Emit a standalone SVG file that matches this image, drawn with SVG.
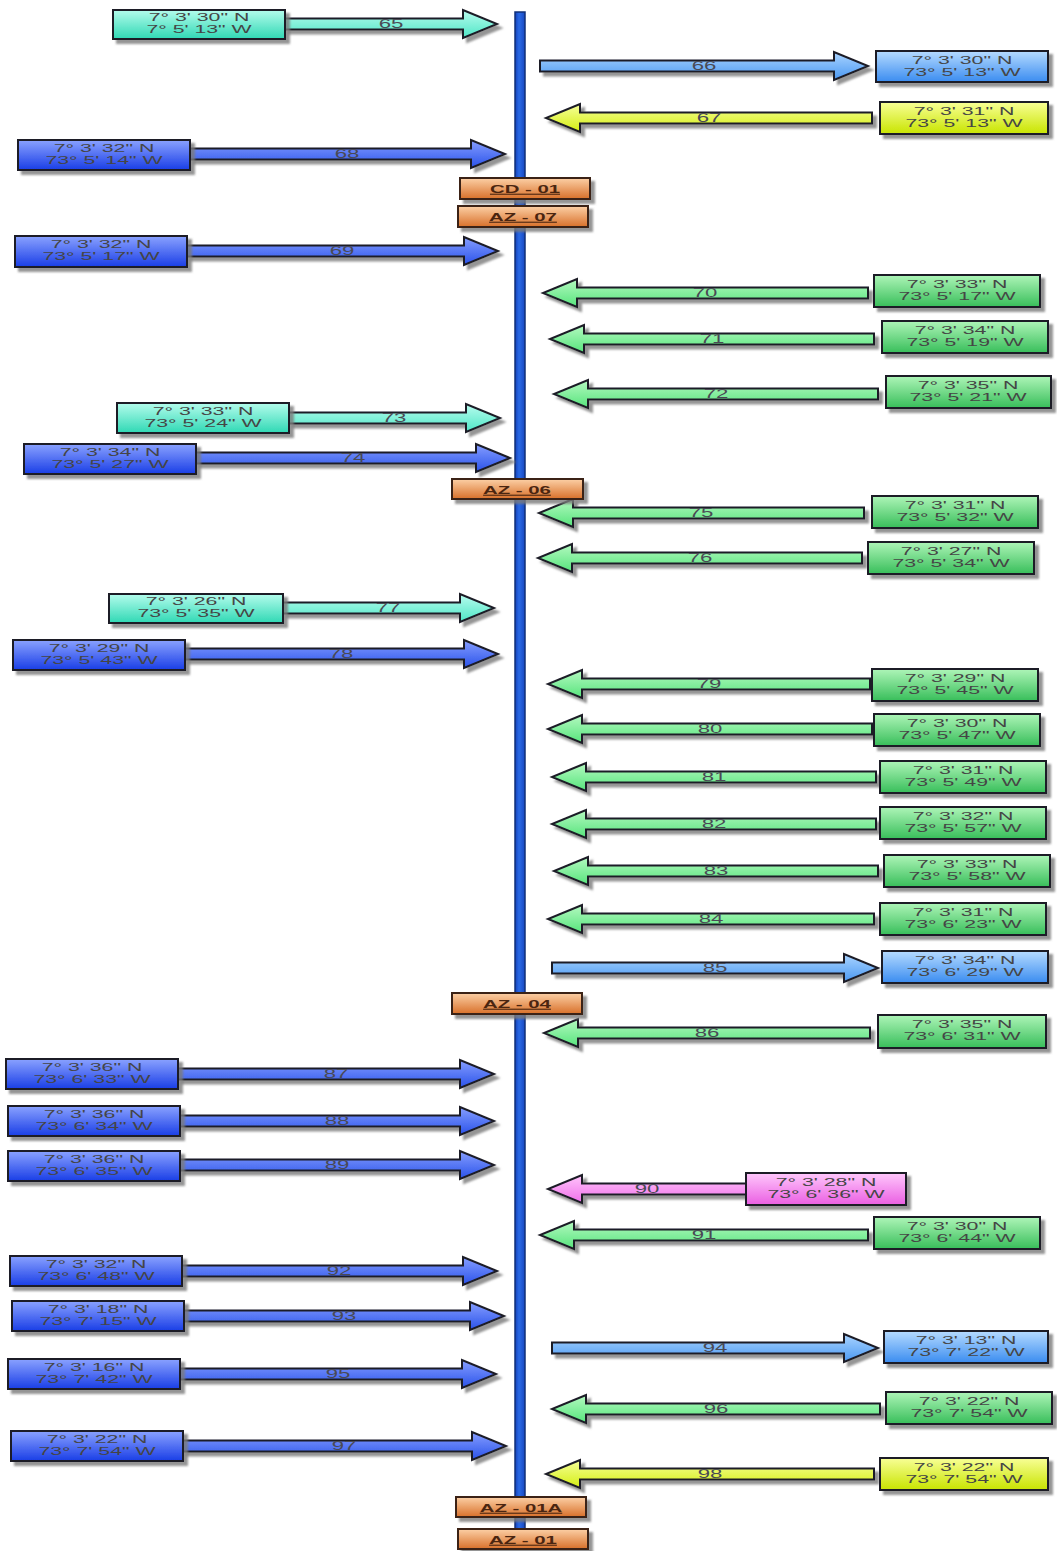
<svg xmlns="http://www.w3.org/2000/svg" width="1057" height="1551" viewBox="0 0 1057 1551">
<defs>
  <filter id="sh" x="-10%" y="-40%" width="130%" height="200%">
    <feDropShadow dx="4" dy="4" stdDeviation="1.2" flood-color="#7a7a7a" flood-opacity="0.8"/>
  </filter>
  <linearGradient id="gCy" x1="0" y1="0" x2="0" y2="1"><stop offset="0" stop-color="#b4fcec"/><stop offset="1" stop-color="#2fd8b4"/></linearGradient>
  <linearGradient id="gCyA" x1="0" y1="0" x2="0" y2="1"><stop offset="0" stop-color="#b8fcee"/><stop offset="1" stop-color="#4ee6c6"/></linearGradient>
  <linearGradient id="gBl" x1="0" y1="0" x2="0" y2="1"><stop offset="0" stop-color="#8aa2ff"/><stop offset="1" stop-color="#1a3ee6"/></linearGradient>
  <linearGradient id="gBlA" x1="0" y1="0" x2="0" y2="1"><stop offset="0" stop-color="#869eff"/><stop offset="1" stop-color="#2a52ea"/></linearGradient>
  <linearGradient id="gLb" x1="0" y1="0" x2="0" y2="1"><stop offset="0" stop-color="#b6dbff"/><stop offset="1" stop-color="#3a8cf0"/></linearGradient>
  <linearGradient id="gLbA" x1="0" y1="0" x2="0" y2="1"><stop offset="0" stop-color="#aad4ff"/><stop offset="1" stop-color="#4a98f2"/></linearGradient>
  <linearGradient id="gYe" x1="0" y1="0" x2="0" y2="1"><stop offset="0" stop-color="#f8ff96"/><stop offset="1" stop-color="#c8e400"/></linearGradient>
  <linearGradient id="gYeA" x1="0" y1="0" x2="0" y2="1"><stop offset="0" stop-color="#f6ff9a"/><stop offset="1" stop-color="#d4ee10"/></linearGradient>
  <linearGradient id="gGr" x1="0" y1="0" x2="0" y2="1"><stop offset="0" stop-color="#aef5b8"/><stop offset="1" stop-color="#38be5a"/></linearGradient>
  <linearGradient id="gGrA" x1="0" y1="0" x2="0" y2="1"><stop offset="0" stop-color="#b4f9c0"/><stop offset="1" stop-color="#56e47c"/></linearGradient>
  <linearGradient id="gPk" x1="0" y1="0" x2="0" y2="1"><stop offset="0" stop-color="#ffc8fc"/><stop offset="1" stop-color="#ea5ee2"/></linearGradient>
  <linearGradient id="gPkA" x1="0" y1="0" x2="0" y2="1"><stop offset="0" stop-color="#ffc4fb"/><stop offset="1" stop-color="#f070ea"/></linearGradient>
  <linearGradient id="gOr" x1="0" y1="0" x2="0" y2="1"><stop offset="0" stop-color="#fcd0a6"/><stop offset="1" stop-color="#d8702a"/></linearGradient>
  <linearGradient id="gLine" x1="0" y1="0" x2="1" y2="0"><stop offset="0" stop-color="#1440b8"/><stop offset="0.4" stop-color="#2a6ae6"/><stop offset="1" stop-color="#1848c0"/></linearGradient>
  <style>
    .box, .arr { stroke: #1c1c28; stroke-width: 2; filter: url(#sh); }
    .arr { stroke-linejoin: miter; }
    .cy { fill: url(#gCy); } .cyA { fill: url(#gCyA); }
    .bl { fill: url(#gBl); } .blA { fill: url(#gBlA); }
    .lb { fill: url(#gLb); } .lbA { fill: url(#gLbA); }
    .ye { fill: url(#gYe); } .yeA { fill: url(#gYeA); }
    .gr { fill: url(#gGr); } .grA { fill: url(#gGrA); }
    .pk { fill: url(#gPk); } .pkA { fill: url(#gPkA); }
    .or { fill: url(#gOr); stroke: #3a2414; stroke-width: 2; filter: url(#sh); }
    text { font-family: "Liberation Sans", Arial, sans-serif; text-anchor: middle; fill: #454545; }
    .bt { font-size: 11.5px; }
    .nt { font-size: 12px; fill: #4a4a55; }
    .lt { font-size: 11px; font-weight: bold; text-decoration: underline; fill: #4a2510; }
  </style>
</defs>
<rect width="1057" height="1551" fill="#ffffff"/>

<!-- main spine -->
<rect id="spine" x="515" y="12" width="10" height="1530" fill="url(#gLine)" stroke="#10307a" stroke-width="1.5"/>

<!-- arrows: right-pointing = M tail,c-5.5 H tip-34 V c-14 L tip,c L tip-34,c+14 V c+5.5 H tail Z -->
<g id="connectors">
  <path class="arr cyA" d="M285,18.5 H463 V10 L497,24 L463,38 V29.5 H285 Z"/><text class="nt" transform="translate(391,28) scale(1.85,1)">65</text>
  <path class="arr blA" d="M190,148.5 H471 V140 L505,154 L471,168 V159.5 H190 Z"/><text class="nt" transform="translate(347,158) scale(1.85,1)">68</text>
  <path class="arr blA" d="M187,245.5 H464 V237 L498,251 L464,265 V256.5 H187 Z"/><text class="nt" transform="translate(342,255) scale(1.85,1)">69</text>
  <path class="arr cyA" d="M289,412.5 H466 V404 L500,418 L466,432 V423.5 H289 Z"/><text class="nt" transform="translate(394,422) scale(1.85,1)">73</text>
  <path class="arr blA" d="M196,452.5 H476 V444 L510,458 L476,472 V463.5 H196 Z"/><text class="nt" transform="translate(353,462) scale(1.85,1)">74</text>
  <path class="arr cyA" d="M283,602.5 H460 V594 L494,608 L460,622 V613.5 H283 Z"/><text class="nt" transform="translate(388,612) scale(1.85,1)">77</text>
  <path class="arr blA" d="M185,648.5 H464 V640 L498,654 L464,668 V659.5 H185 Z"/><text class="nt" transform="translate(341,658) scale(1.85,1)">78</text>
  <path class="arr blA" d="M178,1068.5 H460 V1060 L494,1074 L460,1088 V1079.5 H178 Z"/><text class="nt" transform="translate(336,1078) scale(1.85,1)">87</text>
  <path class="arr blA" d="M180,1115.5 H460 V1107 L494,1121 L460,1135 V1126.5 H180 Z"/><text class="nt" transform="translate(337,1125) scale(1.85,1)">88</text>
  <path class="arr blA" d="M180,1159.5 H460 V1151 L494,1165 L460,1179 V1170.5 H180 Z"/><text class="nt" transform="translate(337,1169) scale(1.85,1)">89</text>
  <path class="arr blA" d="M182,1265.5 H463 V1257 L497,1271 L463,1285 V1276.5 H182 Z"/><text class="nt" transform="translate(339,1275) scale(1.85,1)">92</text>
  <path class="arr blA" d="M184,1310.5 H470 V1302 L504,1316 L470,1330 V1321.5 H184 Z"/><text class="nt" transform="translate(344,1320) scale(1.85,1)">93</text>
  <path class="arr blA" d="M180,1368.5 H462 V1360 L496,1374 L462,1388 V1379.5 H180 Z"/><text class="nt" transform="translate(338,1378) scale(1.85,1)">95</text>
  <path class="arr blA" d="M183,1440.5 H472 V1432 L506,1446 L472,1460 V1451.5 H183 Z"/><text class="nt" transform="translate(344,1450) scale(1.85,1)">97</text>

  <path class="arr lbA" d="M540,60.5 H834 V52 L868,66 L834,80 V71.5 H540 Z"/><text class="nt" transform="translate(704,70) scale(1.85,1)">66</text>
  <path class="arr yeA" d="M872,112.5 H580 V104 L546,118 L580,132 V123.5 H872 Z"/><text class="nt" transform="translate(709,122) scale(1.85,1)">67</text>
  <path class="arr grA" d="M868,287.5 H577 V279 L543,293 L577,307 V298.5 H868 Z"/><text class="nt" transform="translate(705,297) scale(1.85,1)">70</text>
  <path class="arr grA" d="M874,333.5 H584 V325 L550,339 L584,353 V344.5 H874 Z"/><text class="nt" transform="translate(712,343) scale(1.85,1)">71</text>
  <path class="arr grA" d="M878,388.5 H588 V380 L554,394 L588,408 V399.5 H878 Z"/><text class="nt" transform="translate(716,398) scale(1.85,1)">72</text>
  <path class="arr grA" d="M864,507.5 H573 V499 L539,513 L573,527 V518.5 H864 Z"/><text class="nt" transform="translate(701,517) scale(1.85,1)">75</text>
  <path class="arr grA" d="M862,552.5 H572 V544 L538,558 L572,572 V563.5 H862 Z"/><text class="nt" transform="translate(700,562) scale(1.85,1)">76</text>
  <path class="arr grA" d="M870,678.5 H582 V670 L548,684 L582,698 V689.5 H870 Z"/><text class="nt" transform="translate(709,688) scale(1.85,1)">79</text>
  <path class="arr grA" d="M872,723.5 H582 V715 L548,729 L582,743 V734.5 H872 Z"/><text class="nt" transform="translate(710,733) scale(1.85,1)">80</text>
  <path class="arr grA" d="M876,771.5 H586 V763 L552,777 L586,791 V782.5 H876 Z"/><text class="nt" transform="translate(714,781) scale(1.85,1)">81</text>
  <path class="arr grA" d="M876,818.5 H586 V810 L552,824 L586,838 V829.5 H876 Z"/><text class="nt" transform="translate(714,828) scale(1.85,1)">82</text>
  <path class="arr grA" d="M878,865.5 H588 V857 L554,871 L588,885 V876.5 H878 Z"/><text class="nt" transform="translate(716,875) scale(1.85,1)">83</text>
  <path class="arr grA" d="M874,913.5 H582 V905 L548,919 L582,933 V924.5 H874 Z"/><text class="nt" transform="translate(711,923) scale(1.85,1)">84</text>
  <path class="arr lbA" d="M552,962.5 H844 V954 L878,968 L844,982 V973.5 H552 Z"/><text class="nt" transform="translate(715,972) scale(1.85,1)">85</text>
  <path class="arr grA" d="M870,1027.5 H578 V1019 L544,1033 L578,1047 V1038.5 H870 Z"/><text class="nt" transform="translate(707,1037) scale(1.85,1)">86</text>
  <path class="arr pkA" d="M746,1183.5 H582 V1175 L548,1189 L582,1203 V1194.5 H746 Z"/><text class="nt" transform="translate(647,1193) scale(1.85,1)">90</text>
  <path class="arr grA" d="M868,1229.5 H574 V1221 L540,1235 L574,1249 V1240.5 H868 Z"/><text class="nt" transform="translate(704,1239) scale(1.85,1)">91</text>
  <path class="arr lbA" d="M552,1342.5 H844 V1334 L878,1348 L844,1362 V1353.5 H552 Z"/><text class="nt" transform="translate(715,1352) scale(1.85,1)">94</text>
  <path class="arr grA" d="M880,1403.5 H586 V1395 L552,1409 L586,1423 V1414.5 H880 Z"/><text class="nt" transform="translate(716,1413) scale(1.85,1)">96</text>
  <path class="arr yeA" d="M874,1468.5 H580 V1460 L546,1474 L580,1488 V1479.5 H874 Z"/><text class="nt" transform="translate(710,1478) scale(1.85,1)">98</text>
</g>

<!-- coordinate boxes, left column -->
<g id="n65"><rect class="box cy" x="113" y="10" width="172" height="29"/><text class="bt" transform="translate(199,21) scale(1.85,1)">7° 3' 30" N</text><text class="bt" transform="translate(199,33) scale(1.85,1)">7° 5' 13" W</text></g>
<g id="n68"><rect class="box bl" x="18" y="140" width="172" height="30"/><text class="bt" transform="translate(104,152) scale(1.85,1)">7° 3' 32" N</text><text class="bt" transform="translate(104,164) scale(1.85,1)">73° 5' 14" W</text></g>
<g id="n69"><rect class="box bl" x="15" y="236" width="172" height="31"/><text class="bt" transform="translate(101,248) scale(1.85,1)">7° 3' 32" N</text><text class="bt" transform="translate(101,260) scale(1.85,1)">73° 5' 17" W</text></g>
<g id="n73"><rect class="box cy" x="117" y="403" width="172" height="30"/><text class="bt" transform="translate(203,415) scale(1.85,1)">7° 3' 33" N</text><text class="bt" transform="translate(203,427) scale(1.85,1)">73° 5' 24" W</text></g>
<g id="n74"><rect class="box bl" x="24" y="444" width="172" height="30"/><text class="bt" transform="translate(110,456) scale(1.85,1)">7° 3' 34" N</text><text class="bt" transform="translate(110,468) scale(1.85,1)">73° 5' 27" W</text></g>
<g id="n77"><rect class="box cy" x="109" y="594" width="174" height="29"/><text class="bt" transform="translate(196,605) scale(1.85,1)">7° 3' 26" N</text><text class="bt" transform="translate(196,617) scale(1.85,1)">73° 5' 35" W</text></g>
<g id="n78"><rect class="box bl" x="13" y="640" width="172" height="30"/><text class="bt" transform="translate(99,652) scale(1.85,1)">7° 3' 29" N</text><text class="bt" transform="translate(99,664) scale(1.85,1)">73° 5' 43" W</text></g>
<g id="n87"><rect class="box bl" x="6" y="1059" width="172" height="30"/><text class="bt" transform="translate(92,1071) scale(1.85,1)">7° 3' 36" N</text><text class="bt" transform="translate(92,1083) scale(1.85,1)">73° 6' 33" W</text></g>
<g id="n88"><rect class="box bl" x="8" y="1106" width="172" height="30"/><text class="bt" transform="translate(94,1118) scale(1.85,1)">7° 3' 36" N</text><text class="bt" transform="translate(94,1130) scale(1.85,1)">73° 6' 34" W</text></g>
<g id="n89"><rect class="box bl" x="8" y="1151" width="172" height="30"/><text class="bt" transform="translate(94,1163) scale(1.85,1)">7° 3' 36" N</text><text class="bt" transform="translate(94,1175) scale(1.85,1)">73° 6' 35" W</text></g>
<g id="n92"><rect class="box bl" x="10" y="1256" width="172" height="30"/><text class="bt" transform="translate(96,1268) scale(1.85,1)">7° 3' 32" N</text><text class="bt" transform="translate(96,1280) scale(1.85,1)">73° 6' 48" W</text></g>
<g id="n93"><rect class="box bl" x="12" y="1301" width="172" height="30"/><text class="bt" transform="translate(98,1313) scale(1.85,1)">7° 3' 18" N</text><text class="bt" transform="translate(98,1325) scale(1.85,1)">73° 7' 15" W</text></g>
<g id="n95"><rect class="box bl" x="8" y="1359" width="172" height="30"/><text class="bt" transform="translate(94,1371) scale(1.85,1)">7° 3' 16" N</text><text class="bt" transform="translate(94,1383) scale(1.85,1)">73° 7' 42" W</text></g>
<g id="n97"><rect class="box bl" x="11" y="1431" width="172" height="30"/><text class="bt" transform="translate(97,1443) scale(1.85,1)">7° 3' 22" N</text><text class="bt" transform="translate(97,1455) scale(1.85,1)">73° 7' 54" W</text></g>

<!-- coordinate boxes, right column -->
<g id="n66"><rect class="box lb" x="876" y="51" width="172" height="31"/><text class="bt" transform="translate(962,64) scale(1.85,1)">7° 3' 30" N</text><text class="bt" transform="translate(962,76) scale(1.85,1)">73° 5' 13" W</text></g>
<g id="n67"><rect class="box ye" x="880" y="102" width="168" height="32"/><text class="bt" transform="translate(964,115) scale(1.85,1)">7° 3' 31" N</text><text class="bt" transform="translate(964,127) scale(1.85,1)">73° 5' 13" W</text></g>
<g id="n70"><rect class="box gr" x="874" y="275" width="166" height="32"/><text class="bt" transform="translate(957,288) scale(1.85,1)">7° 3' 33" N</text><text class="bt" transform="translate(957,300) scale(1.85,1)">73° 5' 17" W</text></g>
<g id="n71"><rect class="box gr" x="882" y="321" width="166" height="32"/><text class="bt" transform="translate(965,334) scale(1.85,1)">7° 3' 34" N</text><text class="bt" transform="translate(965,346) scale(1.85,1)">73° 5' 19" W</text></g>
<g id="n72"><rect class="box gr" x="886" y="376" width="165" height="32"/><text class="bt" transform="translate(968,389) scale(1.85,1)">7° 3' 35" N</text><text class="bt" transform="translate(968,401) scale(1.85,1)">73° 5' 21" W</text></g>
<g id="n75"><rect class="box gr" x="872" y="496" width="166" height="32"/><text class="bt" transform="translate(955,509) scale(1.85,1)">7° 3' 31" N</text><text class="bt" transform="translate(955,521) scale(1.85,1)">73° 5' 32" W</text></g>
<g id="n76"><rect class="box gr" x="868" y="542" width="166" height="32"/><text class="bt" transform="translate(951,555) scale(1.85,1)">7° 3' 27" N</text><text class="bt" transform="translate(951,567) scale(1.85,1)">73° 5' 34" W</text></g>
<g id="n79"><rect class="box gr" x="872" y="669" width="166" height="32"/><text class="bt" transform="translate(955,682) scale(1.85,1)">7° 3' 29" N</text><text class="bt" transform="translate(955,694) scale(1.85,1)">73° 5' 45" W</text></g>
<g id="n80"><rect class="box gr" x="874" y="714" width="166" height="32"/><text class="bt" transform="translate(957,727) scale(1.85,1)">7° 3' 30" N</text><text class="bt" transform="translate(957,739) scale(1.85,1)">73° 5' 47" W</text></g>
<g id="n81"><rect class="box gr" x="880" y="761" width="166" height="32"/><text class="bt" transform="translate(963,774) scale(1.85,1)">7° 3' 31" N</text><text class="bt" transform="translate(963,786) scale(1.85,1)">73° 5' 49" W</text></g>
<g id="n82"><rect class="box gr" x="880" y="807" width="166" height="32"/><text class="bt" transform="translate(963,820) scale(1.85,1)">7° 3' 32" N</text><text class="bt" transform="translate(963,832) scale(1.85,1)">73° 5' 57" W</text></g>
<g id="n83"><rect class="box gr" x="884" y="855" width="166" height="32"/><text class="bt" transform="translate(967,868) scale(1.85,1)">7° 3' 33" N</text><text class="bt" transform="translate(967,880) scale(1.85,1)">73° 5' 58" W</text></g>
<g id="n84"><rect class="box gr" x="880" y="903" width="166" height="32"/><text class="bt" transform="translate(963,916) scale(1.85,1)">7° 3' 31" N</text><text class="bt" transform="translate(963,928) scale(1.85,1)">73° 6' 23" W</text></g>
<g id="n85"><rect class="box lb" x="882" y="951" width="166" height="32"/><text class="bt" transform="translate(965,964) scale(1.85,1)">7° 3' 34" N</text><text class="bt" transform="translate(965,976) scale(1.85,1)">73° 6' 29" W</text></g>
<g id="n86"><rect class="box gr" x="878" y="1015" width="168" height="33"/><text class="bt" transform="translate(962,1028) scale(1.85,1)">7° 3' 35" N</text><text class="bt" transform="translate(962,1040) scale(1.85,1)">73° 6' 31" W</text></g>
<g id="n90"><rect class="box pk" x="746" y="1173" width="160" height="32"/><text class="bt" transform="translate(826,1186) scale(1.85,1)">7° 3' 28" N</text><text class="bt" transform="translate(826,1198) scale(1.85,1)">73° 6' 36" W</text></g>
<g id="n91"><rect class="box gr" x="874" y="1217" width="166" height="32"/><text class="bt" transform="translate(957,1230) scale(1.85,1)">7° 3' 30" N</text><text class="bt" transform="translate(957,1242) scale(1.85,1)">73° 6' 44" W</text></g>
<g id="n94"><rect class="box lb" x="884" y="1331" width="164" height="32"/><text class="bt" transform="translate(966,1344) scale(1.85,1)">7° 3' 13" N</text><text class="bt" transform="translate(966,1356) scale(1.85,1)">73° 7' 22" W</text></g>
<g id="n96"><rect class="box gr" x="886" y="1392" width="166" height="32"/><text class="bt" transform="translate(969,1405) scale(1.85,1)">7° 3' 22" N</text><text class="bt" transform="translate(969,1417) scale(1.85,1)">73° 7' 54" W</text></g>
<g id="n98"><rect class="box ye" x="880" y="1458" width="168" height="32"/><text class="bt" transform="translate(964,1471) scale(1.85,1)">7° 3' 22" N</text><text class="bt" transform="translate(964,1483) scale(1.85,1)">73° 7' 54" W</text></g>

<!-- station tags on the spine -->
<g id="cd01"><rect class="or" x="460" y="178" width="130" height="21"/><text class="lt" transform="translate(525,193) scale(1.85,1)">CD - 01</text></g>
<g id="az07"><rect class="or" x="458" y="206" width="130" height="21"/><text class="lt" transform="translate(523,221) scale(1.85,1)">AZ - 07</text></g>
<g id="az06"><rect class="or" x="452" y="479" width="131" height="20"/><text class="lt" transform="translate(517,494) scale(1.85,1)">AZ - 06</text></g>
<g id="az04"><rect class="or" x="452" y="993" width="130" height="21"/><text class="lt" transform="translate(517,1008) scale(1.85,1)">AZ - 04</text></g>
<g id="az01a"><rect class="or" x="456" y="1497" width="130" height="20"/><text class="lt" transform="translate(521,1512) scale(1.85,1)">AZ - 01A</text></g>
<g id="az01"><rect class="or" x="458" y="1529" width="130" height="20"/><text class="lt" transform="translate(523,1544) scale(1.85,1)">AZ - 01</text></g>
</svg>
